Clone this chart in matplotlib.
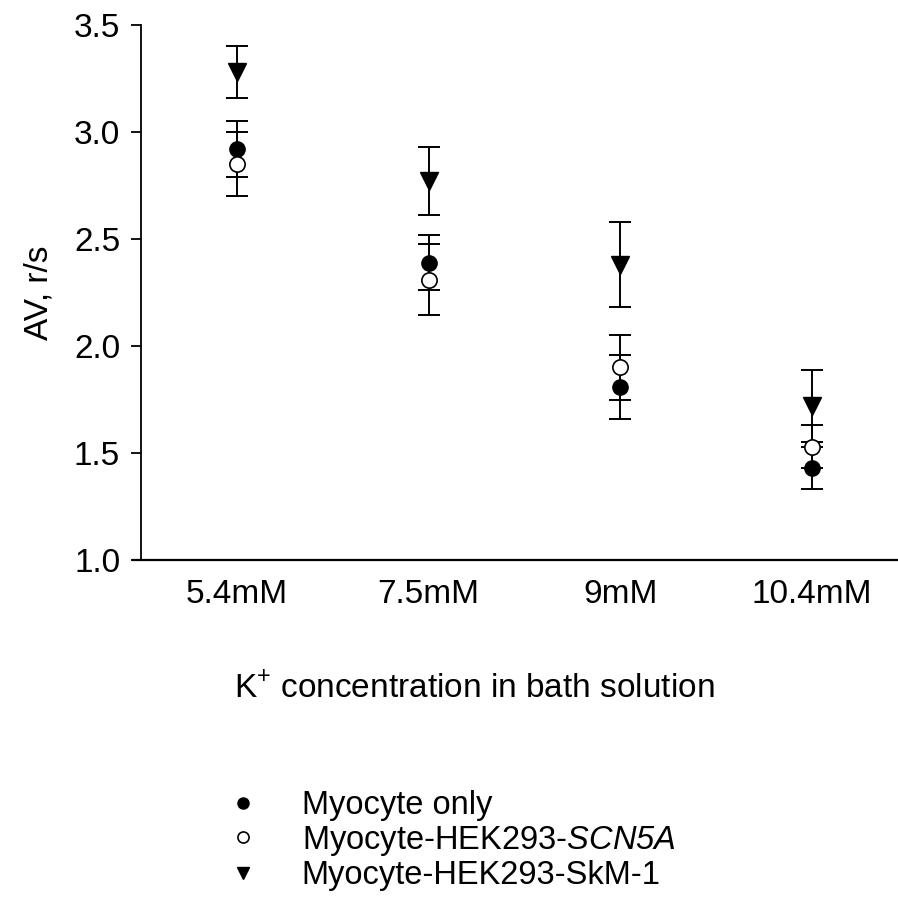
import numpy as np
import matplotlib
matplotlib.use("Agg")
import matplotlib.pyplot as plt
from matplotlib.lines import Line2D

plt.rcParams['font.family'] = ['Liberation Sans', 'DejaVu Sans']
plt.rcParams['mathtext.fontset'] = 'custom'
plt.rcParams['mathtext.rm'] = 'Liberation Sans'
# sf slot holds the italic face so digits inside the gene name stay slanted too
plt.rcParams['mathtext.sf'] = 'Liberation Sans:italic'

conc = ['5.4mM', '7.5mM', '9mM', '10.4mM']

myo_mean = [2.92, 2.39, 1.81, 1.43]
myo_err = [0.13, 0.13, 0.15, 0.10]

scn_mean = [2.85, 2.31, 1.90, 1.53]
scn_err = [0.15, 0.165, 0.15, 0.10]

skm_mean = [3.28, 2.77, 2.38, 1.72]
skm_err = [0.12, 0.16, 0.20, 0.17]

x = np.arange(len(conc))

fig = plt.figure(figsize=(8.98, 9.09), dpi=100)
ax = fig.add_axes([141 / 898, 1 - 560 / 909, 1.011 - 141 / 898, (560 - 25) / 909])

eb = dict(fmt='none', ecolor='black', elinewidth=1.4, capsize=8, capthick=1.4, zorder=2)
ax.errorbar(x, skm_mean, yerr=skm_err, **eb)
ax.errorbar(x, myo_mean, yerr=myo_err, **eb)
ax.errorbar(x, scn_mean, yerr=scn_err, **eb)

ax.plot(x, skm_mean, 'v', ms=12.5, color='black', ls='none', zorder=3)
ax.plot(x, myo_mean, 'o', ms=11, color='black', ls='none', zorder=3)
ax.plot(x, scn_mean, 'o', ms=11, mfc='white', mec='black', mew=1.2, ls='none', zorder=4)

ax.set_xlim(-0.5, 3.5)
ax.set_ylim(1.0, 3.5)
ax.set_yticks([1.0, 1.5, 2.0, 2.5, 3.0, 3.5])
ax.set_yticklabels(['1.0', '1.5', '2.0', '2.5', '3.0', '3.5'])
ax.set_xticks(x)
ax.set_xticklabels(conc)
ax.tick_params(axis='x', length=0, pad=14, labelsize=24)
ax.tick_params(axis='y', direction='out', length=7, width=1.3, pad=8, labelsize=24)

for side in ['top', 'right']:
    ax.spines[side].set_visible(False)
ax.spines['left'].set_linewidth(1.3)
ax.spines['bottom'].set_linewidth(1.6)
ax.spines['bottom'].set_bounds(-0.54, 3.5)

ax.set_ylabel('AV, r/s', fontsize=24, labelpad=14)
ax.set_xlabel('K$^{+}$ concentration in bath solution', fontsize=24)
ax.xaxis.set_label_coords(0.435, -0.21)

handles = [
    Line2D([], [], marker='o', ls='none', color='black', ms=8),
    Line2D([], [], marker='o', ls='none', mfc='white', mec='black', mew=1.2, ms=8),
    Line2D([], [], marker='v', ls='none', color='black', ms=9),
]
labels = ['Myocyte only', 'Myocyte-HEK293-$\\mathsf{SCN5A}$', 'Myocyte-HEK293-SkM-1']
fig.legend(handles, labels, loc='upper left', bbox_to_anchor=(219 / 898, 1 - 790 / 909),
           frameon=False, fontsize=23.5, handlelength=1.5, handletextpad=1.03,
           labelspacing=0.08, borderpad=0, borderaxespad=0)

fig.savefig('out.png', dpi=100)
